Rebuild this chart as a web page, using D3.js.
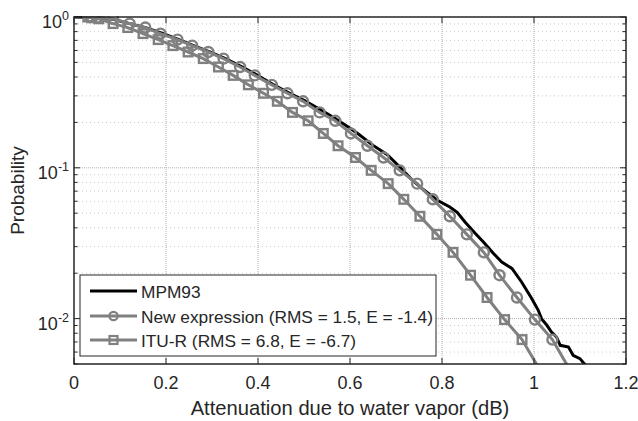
<!DOCTYPE html>
<html>
<head>
<meta charset="utf-8">
<script src="https://cdn.jsdelivr.net/npm/d3@7"></script>
<style>
  body { margin: 0; background: #fff; }
  svg text { font-family: "Liberation Sans", Arial, Helvetica, sans-serif; fill: #262626; }
</style>
</head>
<body>
<div id="chart"></div>
<script>
// ---- data ----
// MPM93 reference curve (attenuation dB, probability)
const mpmAtt = [0, 0.030, 0.057, 0.085, 0.121, 0.156, 0.191, 0.227, 0.260, 0.295, 0.328, 0.365,
  0.397, 0.432, 0.467, 0.502, 0.539, 0.567, 0.597, 0.619, 0.647, 0.681, 0.705, 0.731, 0.760,
  0.789, 0.817, 0.833, 0.850, 0.872, 0.890, 0.912, 0.930, 0.952, 0.973, 0.984, 0.995, 1.009,
  1.017, 1.028, 1.038, 1.049, 1.057, 1.075, 1.085, 1.100, 1.109, 1.122];
const mpmProb = [1.0, 0.998, 0.988, 0.965, 0.904, 0.848, 0.780, 0.711, 0.647, 0.588, 0.532, 0.468,
  0.414, 0.358, 0.314, 0.278, 0.240, 0.213, 0.186, 0.167, 0.143, 0.122, 0.1035, 0.0855, 0.0715,
  0.0612, 0.0550, 0.0507, 0.0437, 0.0368, 0.0322, 0.0270, 0.0237, 0.0215, 0.0175, 0.0154, 0.0136, 0.0114,
  0.00989, 0.00903, 0.00815, 0.00755, 0.00665, 0.00648, 0.00571, 0.00543, 0.00503, 0.00454];

// probability levels shared by the two model curves
const probLevels = [1.0, 0.988, 0.973, 0.904, 0.851, 0.776, 0.708, 0.646, 0.586, 0.530, 0.466,
  0.410, 0.355, 0.312, 0.276, 0.233, 0.205, 0.169, 0.140, 0.117, 0.0962, 0.0785, 0.0618, 0.0477,
  0.0362, 0.0275, 0.0194, 0.0138, 0.00985, 0.00726, 0.0039];
const newAtt = [0.035, 0.050, 0.085, 0.121, 0.155, 0.188, 0.225, 0.257, 0.292, 0.325, 0.361,
  0.393, 0.430, 0.464, 0.498, 0.534, 0.568, 0.602, 0.638, 0.673, 0.708, 0.746, 0.780, 0.817,
  0.854, 0.891, 0.925, 0.963, 1.002, 1.040, 1.091];
const ituAtt = [0.030, 0.039, 0.054, 0.085, 0.117, 0.150, 0.183, 0.215, 0.248, 0.281, 0.314,
  0.346, 0.379, 0.412, 0.442, 0.475, 0.509, 0.542, 0.574, 0.612, 0.646, 0.683, 0.717, 0.752,
  0.789, 0.824, 0.862, 0.898, 0.936, 0.974, 1.026];

const xTicks = [0, 0.2, 0.4, 0.6, 0.8, 1, 1.2];
const xTickLabels = ["0", "0.2", "0.4", "0.6", "0.8", "1", "1.2"];
const yDecades = [1, 0.1, 0.01];
const yExponents = ["0", "-1", "-2"];
const legendLabels = ["MPM93", "New expression (RMS = 1.5, E = -1.4)", "ITU-R (RMS = 6.8, E = -6.7)"];

// ---- layout ----
const W = 638, H = 421;
const L = 74, R = 626, T = 17, B = 364;
const gray = "#808080";

const svg = d3.select("#chart").append("svg")
    .attr("width", W).attr("height", H)
    .style("display", "block");

const x = d3.scaleLinear().domain([0, 1.2]).range([L, R]);
const y = d3.scaleLog().domain([0.005, 1]).range([B, T]);

svg.append("rect").attr("x", L).attr("y", T).attr("width", R - L).attr("height", B - T).attr("fill", "#fff");

// minor horizontal grid
const minorY = [];
[0.001, 0.01, 0.1].forEach(d => { for (let k = 2; k <= 9; k++) { const v = k * d; if (v >= 0.005 && v < 1) minorY.push(v); } });

svg.append("g").selectAll("line").data(minorY).join("line")
    .attr("x1", L).attr("x2", R)
    .attr("y1", d => y(d)).attr("y2", d => y(d))
    .attr("stroke", "#c8c8c8").attr("stroke-width", 1).attr("stroke-dasharray", "1,3");

// major grid
svg.append("g").selectAll("line").data(yDecades.slice(1)).join("line")
    .attr("x1", L).attr("x2", R)
    .attr("y1", d => y(d)).attr("y2", d => y(d))
    .attr("stroke", "#b0b0b0").attr("stroke-width", 1).attr("stroke-dasharray", "1,1");
svg.append("g").selectAll("line").data(xTicks.slice(1, -1)).join("line")
    .attr("x1", d => x(d)).attr("x2", d => x(d))
    .attr("y1", T).attr("y2", B)
    .attr("stroke", "#b0b0b0").attr("stroke-width", 1).attr("stroke-dasharray", "1,1");

// clip for data
svg.append("clipPath").attr("id", "plotclip")
  .append("rect").attr("x", L).attr("y", T - 1).attr("width", R - L).attr("height", B - T + 1);

const plot = svg.append("g").attr("clip-path", "url(#plotclip)");

const lineGen = d3.line().x(d => x(d[0])).y(d => y(d[1]));

const newPts = newAtt.map((a, i) => [a, probLevels[i]]);
const ituPts = ituAtt.map((a, i) => [a, probLevels[i]]);
const mpmPts = mpmAtt.map((a, i) => [a, mpmProb[i]]);

// MPM93 first so the model curves sit on top of it
plot.append("path").datum(mpmPts).attr("d", lineGen)
    .attr("fill", "none").attr("stroke", "#000").attr("stroke-width", 3);

plot.append("path").datum(newPts).attr("d", lineGen)
    .attr("fill", "none").attr("stroke", gray).attr("stroke-width", 3);
plot.append("g").selectAll("circle").data(newPts).join("circle")
    .attr("cx", d => x(d[0])).attr("cy", d => y(d[1])).attr("r", 5)
    .attr("fill", "none").attr("stroke", gray).attr("stroke-width", 2.4);

plot.append("path").datum(ituPts).attr("d", lineGen)
    .attr("fill", "none").attr("stroke", gray).attr("stroke-width", 3);
plot.append("g").selectAll("rect").data(ituPts).join("rect")
    .attr("x", d => x(d[0]) - 4.3).attr("y", d => y(d[1]) - 4.3)
    .attr("width", 8.6).attr("height", 8.6)
    .attr("fill", "none").attr("stroke", gray).attr("stroke-width", 2.4);

// ---- axes (ticks inward, box) ----
const axisColor = "#262626";

svg.append("g").selectAll("line").data(xTicks).join("line")
    .attr("x1", d => x(d)).attr("x2", d => x(d)).attr("y1", B).attr("y2", B - 6)
    .attr("stroke", axisColor).attr("stroke-width", 1);
svg.append("g").selectAll("line").data(xTicks).join("line")
    .attr("x1", d => x(d)).attr("x2", d => x(d)).attr("y1", T).attr("y2", T + 6)
    .attr("stroke", axisColor).attr("stroke-width", 1);
[[L, 1], [R, -1]].forEach(([x0, dir]) => {
  svg.append("g").selectAll("line").data(yDecades).join("line")
      .attr("x1", x0).attr("x2", x0 + dir * 6).attr("y1", d => y(d)).attr("y2", d => y(d))
      .attr("stroke", axisColor).attr("stroke-width", 1);
  svg.append("g").selectAll("line").data(minorY).join("line")
      .attr("x1", x0).attr("x2", x0 + dir * 3.5).attr("y1", d => y(d)).attr("y2", d => y(d))
      .attr("stroke", axisColor).attr("stroke-width", 1);
});

svg.append("rect").attr("x", L).attr("y", T).attr("width", R - L).attr("height", B - T)
    .attr("fill", "none").attr("stroke", axisColor).attr("stroke-width", 1.5);

// x tick labels
svg.append("g").selectAll("text").data(xTicks).join("text")
    .attr("x", d => x(d)).attr("y", B + 25)
    .attr("text-anchor", "middle").attr("font-size", 18)
    .text((d, i) => xTickLabels[i]);

// y tick labels 10^k
const yl = svg.append("g").selectAll("text").data(yDecades).join("text")
    .attr("x", L - 5).attr("y", d => y(d) + 11)
    .attr("text-anchor", "end").attr("font-size", 18);
yl.append("tspan").text("10");
yl.append("tspan").attr("dy", -8).attr("font-size", 12.5).text((d, i) => yExponents[i]);

// axis titles
svg.append("text").attr("x", (L + R) / 2).attr("y", 415)
    .attr("text-anchor", "middle").attr("font-size", 20.2)
    .text("Attenuation due to water vapor (dB)");
svg.append("text").attr("transform", `translate(24, ${(T + B) / 2}) rotate(-90)`)
    .attr("text-anchor", "middle").attr("font-size", 19)
    .text("Probability");

// ---- legend ----
const lg = svg.append("g");
lg.append("rect").attr("x", 80).attr("y", 275).attr("width", 356).attr("height", 81)
    .attr("fill", "#fff").attr("stroke", axisColor).attr("stroke-width", 1);
const rowsY = [291, 316, 340];
const lx0 = 90, lx1 = 137, lxm = (lx0 + lx1) / 2;
lg.append("line").attr("x1", lx0).attr("x2", lx1).attr("y1", rowsY[0]).attr("y2", rowsY[0])
    .attr("stroke", "#000").attr("stroke-width", 3);
lg.append("line").attr("x1", lx0).attr("x2", lx1).attr("y1", rowsY[1]).attr("y2", rowsY[1])
    .attr("stroke", gray).attr("stroke-width", 3);
lg.append("circle").attr("cx", lxm).attr("cy", rowsY[1]).attr("r", 4.2)
    .attr("fill", "none").attr("stroke", gray).attr("stroke-width", 2.2);
lg.append("line").attr("x1", lx0).attr("x2", lx1).attr("y1", rowsY[2]).attr("y2", rowsY[2])
    .attr("stroke", gray).attr("stroke-width", 3);
lg.append("rect").attr("x", lxm - 4).attr("y", rowsY[2] - 4).attr("width", 8).attr("height", 8)
    .attr("fill", "none").attr("stroke", gray).attr("stroke-width", 2.2);
lg.selectAll("text.lab").data(legendLabels).join("text").attr("class", "lab")
    .attr("x", 141).attr("y", (d, i) => rowsY[i] + 6.5)
    .attr("font-size", 17.3).attr("fill", "#000")
    .text(d => d);
</script>
</body>
</html>
